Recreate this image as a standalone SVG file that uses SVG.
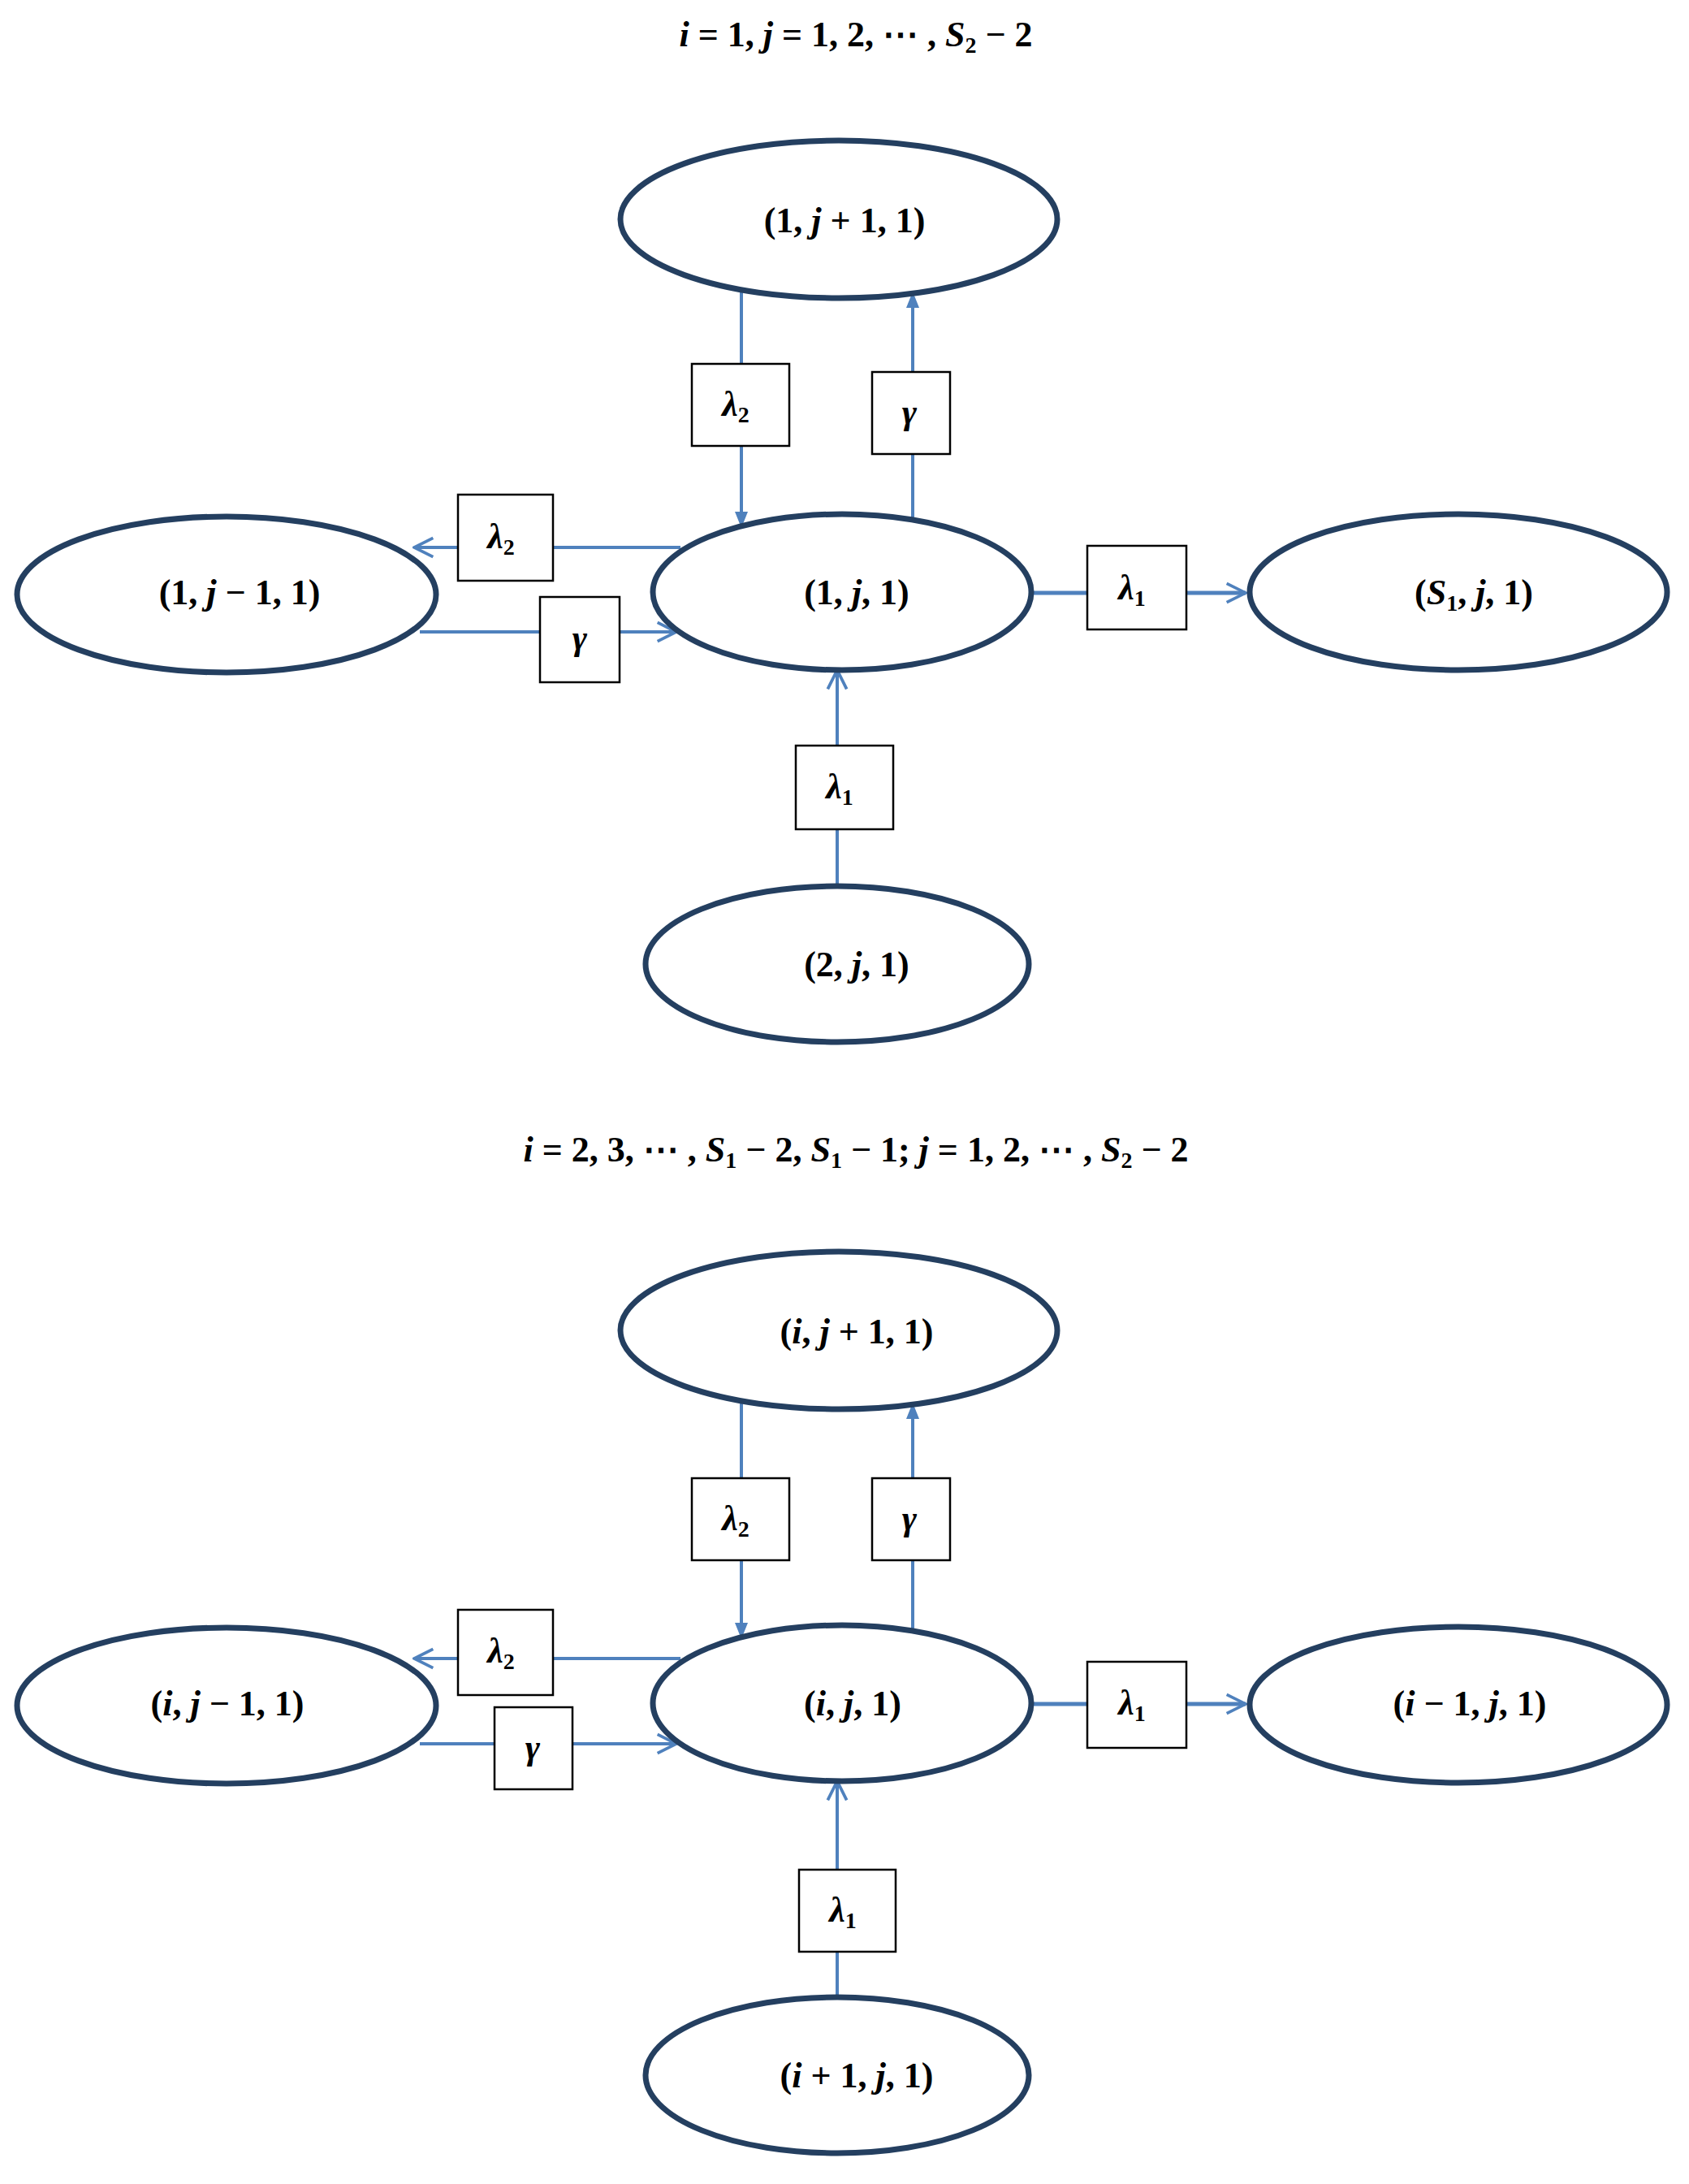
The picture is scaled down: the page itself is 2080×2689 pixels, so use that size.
<svg xmlns="http://www.w3.org/2000/svg" width="2080" height="2689" viewBox="0 0 2080 2689">
<style>
.n{fill:#fff;stroke:#243F60;stroke-width:7}
.b{fill:#fff;stroke:#000;stroke-width:2.5}
.c{fill:none;stroke:#4F81BD;stroke-width:4}
.t{font-family:"Liberation Serif",serif;font-weight:bold;font-size:44px;text-anchor:middle}
.i{font-style:italic}
.s{font-size:28px}
</style>
<defs>
<marker id="a" viewBox="0 0 12 12" refX="11" refY="6" markerWidth="28" markerHeight="28" markerUnits="userSpaceOnUse" orient="auto">
<path d="M1,1 L11,6 L1,11" fill="none" stroke="#4F81BD" stroke-width="1.6"/>
</marker>
<marker id="f" viewBox="0 0 10 10" refX="9" refY="5" markerWidth="20" markerHeight="20" markerUnits="userSpaceOnUse" orient="auto">
<path d="M0,1 L10,5 L0,9 Z" fill="#4F81BD"/>
</marker>
</defs>
<rect width="2080" height="2689" fill="#fff"/>
<text class="t" x="1054" y="57"><tspan class="i">i</tspan> = 1, <tspan class="i">j</tspan> = 1, 2, ⋯ , <tspan class="i">S</tspan><tspan class="s" dy="8">2</tspan><tspan dy="-8"> − 2</tspan></text>
<text class="t" x="1054" y="1430"><tspan class="i">i</tspan> = 2, 3, ⋯ , <tspan class="i">S</tspan><tspan class="s" dy="8">1</tspan><tspan dy="-8"> − 2, </tspan><tspan class="i">S</tspan><tspan class="s" dy="8">1</tspan><tspan dy="-8"> − 1; </tspan><tspan class="i">j</tspan> = 1, 2, ⋯ , <tspan class="i">S</tspan><tspan class="s" dy="8">2</tspan><tspan dy="-8"> − 2</tspan></text>
<g id="connectors">
<line class="c" x1="913" y1="354" x2="913" y2="648" marker-end="url(#f)"/>
<line class="c" x1="1124" y1="643" x2="1124" y2="361" marker-end="url(#f)"/>
<line class="c" x1="838" y1="674" x2="510" y2="674" marker-end="url(#a)"/>
<line class="c" x1="517" y1="778" x2="833" y2="778" marker-end="url(#a)"/>
<line class="c" style="stroke-width:5" x1="1269" y1="730" x2="1534" y2="730" marker-end="url(#a)"/>
<line class="c" x1="1031" y1="1091" x2="1031" y2="825" marker-end="url(#a)"/>
<line class="c" x1="913" y1="1722" x2="913" y2="2016" marker-end="url(#f)"/>
<line class="c" x1="1124" y1="2011" x2="1124" y2="1729" marker-end="url(#f)"/>
<line class="c" x1="838" y1="2042" x2="510" y2="2042" marker-end="url(#a)"/>
<line class="c" x1="517" y1="2147" x2="833" y2="2147" marker-end="url(#a)"/>
<line class="c" style="stroke-width:5" x1="1269" y1="2098" x2="1534" y2="2098" marker-end="url(#a)"/>
<line class="c" x1="1031" y1="2459" x2="1031" y2="2193" marker-end="url(#a)"/>
</g>
<g id="n_top1"><ellipse class="n" cx="1033" cy="270" rx="269" ry="97"/><text class="t" x="1040" y="286">(1, <tspan class="i">j</tspan> + 1, 1)</text></g>
<g id="n_c1"><ellipse class="n" cx="1037" cy="729" rx="233" ry="96"/><text class="t" x="1055" y="744">(1, <tspan class="i">j</tspan>, 1)</text></g>
<g id="n_l1"><ellipse class="n" cx="279" cy="732" rx="258" ry="96"/><text class="t" x="295" y="744">(1, <tspan class="i">j</tspan> − 1, 1)</text></g>
<g id="n_r1"><ellipse class="n" cx="1796" cy="729" rx="257" ry="96"/><text class="t" x="1815" y="744">(<tspan class="i">S</tspan><tspan class="s" dy="8">1</tspan><tspan dy="-8">, </tspan><tspan class="i">j</tspan>, 1)</text></g>
<g id="n_b1"><ellipse class="n" cx="1031" cy="1187" rx="236" ry="96"/><text class="t" x="1055" y="1202">(2, <tspan class="i">j</tspan>, 1)</text></g>
<g id="n_top2"><ellipse class="n" cx="1033" cy="1638" rx="269" ry="97"/><text class="t" x="1055" y="1654">(<tspan class="i">i</tspan>, <tspan class="i">j</tspan> + 1, 1)</text></g>
<g id="n_c2"><ellipse class="n" cx="1037" cy="2097" rx="233" ry="96"/><text class="t" x="1050" y="2112">(<tspan class="i">i</tspan>, <tspan class="i">j</tspan>, 1)</text></g>
<g id="n_l2"><ellipse class="n" cx="279" cy="2100" rx="258" ry="96"/><text class="t" x="280" y="2112">(<tspan class="i">i</tspan>, <tspan class="i">j</tspan> − 1, 1)</text></g>
<g id="n_r2"><ellipse class="n" cx="1796" cy="2099" rx="257" ry="96"/><text class="t" x="1810" y="2112">(<tspan class="i">i</tspan> − 1, <tspan class="i">j</tspan>, 1)</text></g>
<g id="n_b2"><ellipse class="n" cx="1031" cy="2555" rx="236" ry="96"/><text class="t" x="1055" y="2570">(<tspan class="i">i</tspan> + 1, <tspan class="i">j</tspan>, 1)</text></g>
<g id="labels">
<rect class="b" x="852" y="448" width="120" height="101"/><text class="t" x="906" y="512"><tspan class="i">λ</tspan><tspan class="s" dy="8">2</tspan></text>
<rect class="b" x="1074" y="458" width="96" height="101"/><text class="t i" x="1120" y="522">γ</text>
<rect class="b" x="564" y="609" width="117" height="106"/><text class="t" x="617" y="675"><tspan class="i">λ</tspan><tspan class="s" dy="8">2</tspan></text>
<rect class="b" x="665" y="735" width="98" height="105"/><text class="t i" x="714" y="800">γ</text>
<rect class="b" x="1339" y="672" width="122" height="103"/><text class="t" x="1394" y="738"><tspan class="i">λ</tspan><tspan class="s" dy="8">1</tspan></text>
<rect class="b" x="980" y="918" width="120" height="103"/><text class="t" x="1034" y="983"><tspan class="i">λ</tspan><tspan class="s" dy="8">1</tspan></text>
<rect class="b" x="852" y="1820" width="120" height="101"/><text class="t" x="906" y="1884"><tspan class="i">λ</tspan><tspan class="s" dy="8">2</tspan></text>
<rect class="b" x="1074" y="1820" width="96" height="101"/><text class="t i" x="1120" y="1884">γ</text>
<rect class="b" x="564" y="1982" width="117" height="105"/><text class="t" x="617" y="2047"><tspan class="i">λ</tspan><tspan class="s" dy="8">2</tspan></text>
<rect class="b" x="609" y="2102" width="96" height="101"/><text class="t i" x="656" y="2166">γ</text>
<rect class="b" x="1339" y="2046" width="122" height="106"/><text class="t" x="1394" y="2111"><tspan class="i">λ</tspan><tspan class="s" dy="8">1</tspan></text>
<rect class="b" x="984" y="2302" width="119" height="101"/><text class="t" x="1038" y="2366"><tspan class="i">λ</tspan><tspan class="s" dy="8">1</tspan></text>
</g>
</svg>
